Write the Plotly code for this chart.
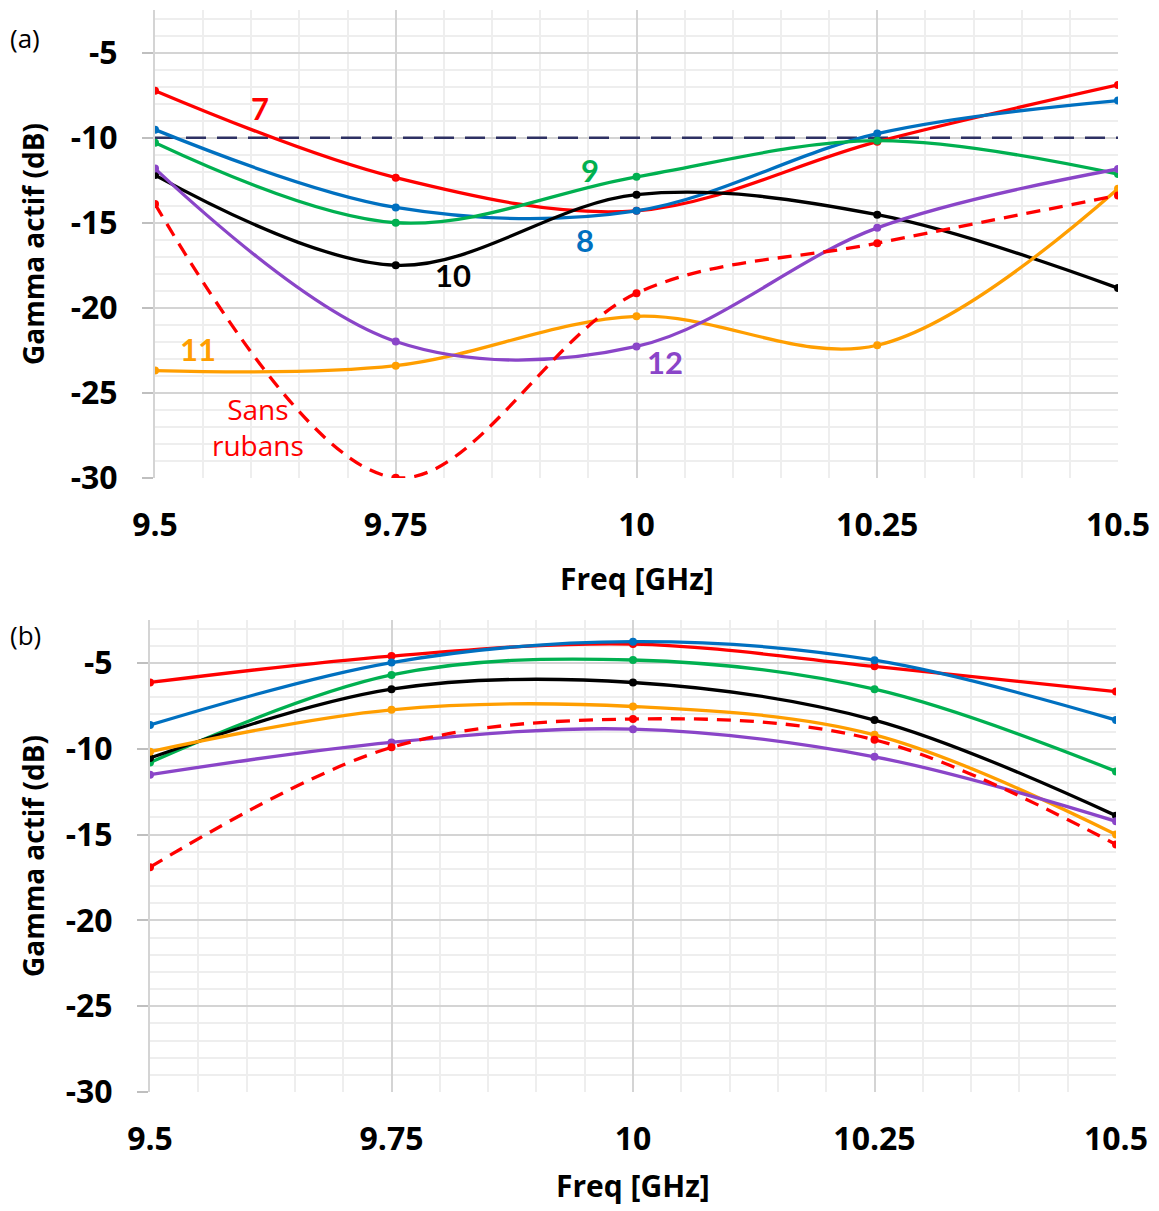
import plotly.graph_objects as go

freq = [9.5, 9.75, 10.0, 10.25, 10.5]
freq_ticks = [9.5, 9.75, 10.0, 10.25, 10.5]
freq_ticktext = ["9.5", "9.75", "10", "10.25", "10.5"]
y_ticks = [-5, -10, -15, -20, -25, -30]
y_ticktext = ["-5", "-10", "-15", "-20", "-25", "-30"]

# Panel (a)
a_7 = [-7.24, -12.35, -14.3, -10.24, -6.9]
a_8 = [-9.53, -14.1, -14.3, -9.76, -7.82]
a_9 = [-10.3, -15.0, -12.3, -10.18, -12.14]
a_10 = [-12.2, -17.5, -13.35, -14.53, -18.84]
a_11 = [-23.69, -23.4, -20.5, -22.2, -13.0]
a_12 = [-11.82, -21.98, -22.27, -15.3, -11.84]
a_sans = [-13.9, -29.98, -19.14, -16.2, -13.4]
threshold = -10

# Panel (b)
b_7 = [-6.14, -4.6, -3.9, -5.2, -6.67]
b_8 = [-8.62, -4.98, -3.76, -4.84, -8.33]
b_9 = [-10.8, -5.7, -4.83, -6.53, -11.32]
b_10 = [-10.54, -6.53, -6.14, -8.33, -13.9]
b_11 = [-10.17, -7.73, -7.54, -9.19, -15.0]
b_12 = [-11.51, -9.63, -8.86, -10.47, -14.23]
b_sans = [-16.9, -9.92, -8.27, -9.48, -15.58]

RED = "#FF0000"
BLUE = "#0070C0"
GREEN = "#00B050"
BLACK = "#000000"
ORANGE = "#FF9E00"
PURPLE = "#8A45C8"
NAVY = "#2E3163"

series_a = [(a_7, RED, "solid", "7"), (a_8, BLUE, "solid", "8"), (a_9, GREEN, "solid", "9"),
            (a_10, BLACK, "solid", "10"), (a_11, ORANGE, "solid", "11"), (a_12, PURPLE, "solid", "12"),
            (a_sans, RED, "dash", "Sans rubans")]
series_b = [(b_7, RED, "solid", "7"), (b_8, BLUE, "solid", "8"), (b_9, GREEN, "solid", "9"),
            (b_10, BLACK, "solid", "10"), (b_11, ORANGE, "solid", "11"), (b_12, PURPLE, "solid", "12"),
            (b_sans, RED, "dash", "Sans rubans")]

fig = go.Figure()

fig.add_trace(go.Scatter(x=[freq[0], freq[-1]], y=[threshold, threshold], mode="lines",
                         line=dict(color=NAVY, width=2.5, dash="20px,11px"),
                         xaxis="x", yaxis="y", showlegend=False, hoverinfo="skip"))

for vals, col, dash, name in series_a:
    fig.add_trace(go.Scatter(x=freq, y=vals, mode="lines+markers", name=name,
                             line=dict(color=col, width=3.3, shape="spline", smoothing=1,
                                       dash="14px,9px" if dash == "dash" else "solid"),
                             marker=dict(color=col, size=8),
                             xaxis="x", yaxis="y", showlegend=False))
for vals, col, dash, name in series_b:
    fig.add_trace(go.Scatter(x=freq, y=vals, mode="lines+markers", name=name,
                             line=dict(color=col, width=3.3, shape="spline", smoothing=1,
                                       dash="14px,9px" if dash == "dash" else "solid"),
                             marker=dict(color=col, size=8),
                             xaxis="x2", yaxis="y2", showlegend=False))

# page body margin offsets the figure by 8px; work in screen pixels and convert
OFF = 8
W, H = 1159 - OFF, 1211 - OFF

def fx(px):
    return (px - OFF) / W

def fy(py):
    return 1 - (py - OFF) / H

FONT = "Open Sans"
tickfont = dict(family=FONT, size=32, color="#000000", weight="bold")

def xaxis_cfg(domain, anchor):
    return dict(domain=domain, anchor=anchor, range=[9.5, 10.5], tickmode="array",
                tickvals=freq_ticks, ticktext=freq_ticktext, tickfont=tickfont,
                showgrid=True, gridcolor="#D4D4D4", gridwidth=2,
                minor=dict(dtick=0.05, tick0=9.5, showgrid=True, gridcolor="#EEEEEE", gridwidth=2),
                showline=False, zeroline=False, ticks="", ticklabelstandoff=25,
                automargin=False)

def yaxis_cfg(domain, anchor):
    return dict(domain=domain, anchor=anchor, range=[-30, -2.5], tickmode="array",
                tickvals=y_ticks, ticktext=y_ticktext, tickfont=tickfont,
                showgrid=True, gridcolor="#D4D4D4", gridwidth=2,
                minor=dict(dtick=1, tick0=-30, showgrid=True, gridcolor="#EEEEEE", gridwidth=2),
                showline=True, linecolor="#D4D4D4", linewidth=2,
                zeroline=False, ticks="outside", ticklen=11, tickcolor="#BFBFBF", tickwidth=2,
                ticklabelstandoff=18, automargin=False)

fig.update_layout(
    width=W, height=H, margin=dict(l=0, r=0, t=0, b=0, pad=0, autoexpand=False),
    plot_bgcolor="white", paper_bgcolor="white", showlegend=False,
    xaxis=xaxis_cfg([fx(155), fx(1118)], "y"),
    yaxis=yaxis_cfg([fy(478), fy(10)], "x"),
    xaxis2=xaxis_cfg([fx(150), fx(1116)], "y2"),
    yaxis2=yaxis_cfg([fy(1092), fy(620)], "x2"),
)

ann = []
ytitle_font = dict(family=FONT, size=28, color="#000000", weight="bold")
xtitle_font = dict(family=FONT, size=30, color="#000000", weight="bold")
for yc in [(10 + 478) / 2, (620 + 1092) / 2]:
    ann.append(dict(text="Gamma actif (dB)", x=fx(33), y=fy(yc), xref="paper", yref="paper",
                    showarrow=False, textangle=-90, font=ytitle_font, xanchor="center", yanchor="middle"))
for xc, yc in [((155 + 1118) / 2, 578), ((150 + 1116) / 2, 1185)]:
    ann.append(dict(text="Freq [GHz]", x=fx(xc), y=fy(yc), xref="paper", yref="paper",
                    showarrow=False, font=xtitle_font, xanchor="center", yanchor="middle"))
panel_font = dict(family="Open Sans", size=26, color="#000000")
ann.append(dict(text="(a)", x=fx(25), y=fy(38), xref="paper", yref="paper", showarrow=False,
                font=panel_font, xanchor="center", yanchor="middle"))
ann.append(dict(text="(b)", x=fx(25), y=fy(635), xref="paper", yref="paper", showarrow=False,
                font=panel_font, xanchor="center", yanchor="middle"))

label_font = "Lato"
labels = [("7", 9.609, -8.24, RED), ("9", 9.952, -11.9, GREEN), ("8", 9.947, -16.0, BLUE),
          ("10", 9.809, -18.1, BLACK), ("11", 9.545, -22.4, ORANGE), ("12", 10.030, -23.2, PURPLE)]
for t, x, y, c in labels:
    ann.append(dict(text=t, x=x, y=y, xref="x", yref="y", showarrow=False,
                    font=dict(family=label_font, size=31, color=c, weight="bold")))
ann.append(dict(text="Sans<br>rubans", x=9.607, y=-27.0, xref="x", yref="y", showarrow=False,
                font=dict(family="Open Sans", size=28, color=RED)))

fig.update_layout(annotations=ann)
fig.write_html("out.html")
